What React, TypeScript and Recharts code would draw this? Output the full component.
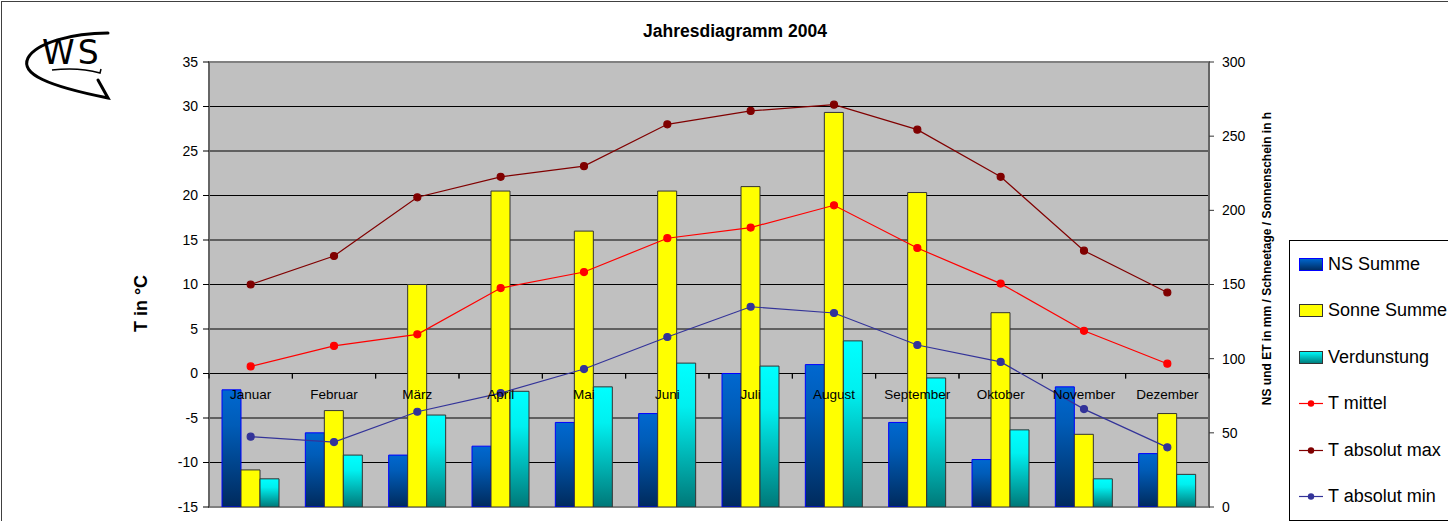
import React from 'react'
import {
  ComposedChart,
  Bar,
  Line,
  XAxis,
  YAxis,
  CartesianGrid,
  ReferenceArea,
} from 'recharts'

const MONTHS = ['Januar', 'Februar', 'März', 'April', 'Mai', 'Juni', 'Juli', 'August', 'September', 'Oktober', 'November', 'Dezember']

// right axis (mm / h)
const NS_SUMME = [79, 50, 35, 41, 57, 63, 90, 96, 57, 32, 81, 36]
const SONNE_SUMME = [25, 65, 150, 213, 186, 213, 216, 266, 212, 131, 49, 63]
const VERDUNSTUNG = [19, 35, 62, 78, 81, 97, 95, 112, 87, 52, 19, 22]

// left axis (°C)
const T_MITTEL = [0.8, 3.1, 4.4, 9.6, 11.4, 15.2, 16.4, 18.9, 14.1, 10.1, 4.8, 1.1]
const T_ABS_MAX = [10.0, 13.2, 19.8, 22.1, 23.3, 28.0, 29.5, 30.2, 27.4, 22.1, 13.8, 9.1]
const T_ABS_MIN = [-7.1, -7.7, -4.3, -2.2, 0.5, 4.1, 7.5, 6.8, 3.2, 1.3, -4.0, -8.3]

const T_TICKS = [-15, -10, -5, 0, 5, 10, 15, 20, 25, 30, 35]
const R_TICKS = [0, 50, 100, 150, 200, 250, 300]

const W = 1448
const H = 521
const MARGIN = { top: 62, right: 179, bottom: 13, left: 149 }
const AXIS_W = 60
const PLOT_LEFT = MARGIN.left + AXIS_W
const PLOT_RIGHT = W - MARGIN.right - AXIS_W
const PLOT_TOP = MARGIN.top
const PLOT_BOTTOM = H - MARGIN.bottom - 1
const BAND = (PLOT_RIGHT - PLOT_LEFT) / MONTHS.length
const T_DOMAIN = [T_TICKS[0], T_TICKS[T_TICKS.length - 1]]
const ZERO_Y = PLOT_TOP + ((PLOT_BOTTOM - PLOT_TOP) * T_DOMAIN[1]) / (T_DOMAIN[1] - T_DOMAIN[0])

const FONT = '"Liberation Sans", Arial, sans-serif'

const data = MONTHS.map((m, i) => ({
  month: m,
  ns: NS_SUMME[i],
  sonne: SONNE_SUMME[i],
  verd: VERDUNSTUNG[i],
  tmittel: T_MITTEL[i],
  tmax: T_ABS_MAX[i],
  tmin: T_ABS_MIN[i],
}))

const LEGEND = [
  { name: 'NS Summe', kind: 'bar', fill: 'url(#lg-ns)', stroke: '#0000ff' },
  { name: 'Sonne Summe', kind: 'bar', fill: '#ffff00', stroke: '#333' },
  { name: 'Verdunstung', kind: 'bar', fill: 'url(#lg-verd)', stroke: '#333' },
  { name: 'T mittel', kind: 'line', stroke: '#ff0000' },
  { name: 'T absolut max', kind: 'line', stroke: '#800000' },
  { name: 'T absolut min', kind: 'line', stroke: '#333399' },
]

// month labels sit under the zero line, like Excel does it
function MonthTick({ x, payload }: any) {
  return (
    <g>
      <line x1={x - BAND / 2} x2={x - BAND / 2} y1={ZERO_Y} y2={ZERO_Y + 5} stroke="#000" />
      <line x1={x + BAND / 2} x2={x + BAND / 2} y1={ZERO_Y} y2={ZERO_Y + 5} stroke="#000" />
      <text x={x} y={ZERO_Y + 25.5} textAnchor="middle" fontSize={13.5} fill="#000">
        {payload.value}
      </text>
    </g>
  )
}

function LeftTitle({ viewBox }: any) {
  const x = viewBox.x - 2
  const y = viewBox.y + viewBox.height / 2 + 19
  return (
    <text x={x} y={y} transform={`rotate(-90 ${x} ${y})`} textAnchor="middle" fontSize={18} fontWeight="bold" fill="#000">
      T in °C
    </text>
  )
}

function RightTitle({ viewBox }: any) {
  const x = viewBox.x + 62
  const y = viewBox.y + viewBox.height / 2 - 26
  return (
    <text x={x} y={y} transform={`rotate(-90 ${x} ${y})`} textAnchor="middle" fontSize={12} fontWeight="bold" fill="#000">
      NS und ET in mm / Schneetage / Sonnenschein in h
    </text>
  )
}

function Logo() {
  return (
    <svg width={130} height={110} style={{ position: 'absolute', left: 0, top: 0 }}>
      <path d="M108,33 C72,33 36,43 28,58 C20,74 48,86 108,98 L98,80" fill="none" stroke="#000" strokeWidth={3} strokeLinecap="round" />
      <path d="M52,70 C68,68 86,69 100,73 L101,69" fill="none" stroke="#000" strokeWidth={1.5} />
      <text x={42} y={64} fontSize={33} fontFamily="DejaVu Sans" letterSpacing={3} fill="#000">
        WS
      </text>
    </svg>
  )
}

function Legend() {
  return (
    <div
      style={{
        position: 'absolute',
        left: 1289,
        top: 240,
        width: 175,
        height: 281,
        border: '1px solid #000',
        background: '#fff',
        boxSizing: 'border-box',
        paddingLeft: 9,
      }}
    >
      {LEGEND.map((s) => (
        <div key={s.name} style={{ height: 46.5, display: 'flex', alignItems: 'center', whiteSpace: 'nowrap' }}>
          <svg width={24} height={13} style={{ marginRight: 5, flex: 'none' }}>
            <defs>
              <linearGradient id="lg-ns" x1="0" y1="0" x2="0" y2="1">
                <stop offset="0%" stopColor="#0068d0" />
                <stop offset="100%" stopColor="#002a5c" />
              </linearGradient>
              <linearGradient id="lg-verd" x1="0" y1="0" x2="0" y2="1">
                <stop offset="0%" stopColor="#00ffff" />
                <stop offset="100%" stopColor="#007878" />
              </linearGradient>
            </defs>
            {s.kind === 'bar' ? (
              <rect x={0.5} y={0.5} width={23} height={12} fill={s.fill} stroke={s.stroke} />
            ) : (
              <g>
                <line x1={0} x2={24} y1={6.5} y2={6.5} stroke={s.stroke} strokeWidth={1.2} />
                <circle cx={12} cy={6.5} r={3.2} fill={s.stroke} />
              </g>
            )}
          </svg>
          <span style={{ fontSize: 18, color: '#000' }}>{s.name}</span>
        </div>
      ))}
    </div>
  )
}

export default function App() {
  return (
    <div
      style={{
        position: 'fixed',
        left: 0,
        top: 0,
        width: W,
        height: H,
        overflow: 'hidden',
        background: '#fff',
        fontFamily: FONT,
      }}
    >
      {/* outer frame, right/bottom edges fall outside the picture */}
      <div style={{ position: 'absolute', left: 1, top: 1, width: 1600, height: 700, border: '1px solid #404040' }} />
      <Logo />
      <div
        style={{
          position: 'absolute',
          left: 535,
          top: 23,
          width: 400,
          textAlign: 'center',
          fontSize: 17.5,
          fontWeight: 'bold',
          lineHeight: 1,
          color: '#000',
        }}
      >
        Jahresdiagramm 2004
      </div>

      <ComposedChart width={W} height={H} data={data} margin={MARGIN} barGap={0} barSize={19}>
        <defs>
          <linearGradient id="grad-ns" x1="0" y1="0" x2="0" y2="1">
            <stop offset="0%" stopColor="#0068d0" />
            <stop offset="30%" stopColor="#005cb8" />
            <stop offset="100%" stopColor="#002a5c" />
          </linearGradient>
          <linearGradient id="grad-verd" x1="0" y1="0" x2="0" y2="1">
            <stop offset="0%" stopColor="#00ffff" />
            <stop offset="30%" stopColor="#00f0f0" />
            <stop offset="100%" stopColor="#007878" />
          </linearGradient>
        </defs>

        <CartesianGrid yAxisId="left" horizontal vertical={false} stroke="#000" fill="#c0c0c0" fillOpacity={1} />

        <XAxis
          dataKey="month"
          height={1}
          axisLine={false}
          tickLine={false}
          interval={0}
          tick={<MonthTick />}
        />
        <YAxis
          yAxisId="left"
          width={AXIS_W}
          domain={T_DOMAIN}
          ticks={T_TICKS}
          interval={0}
          allowDataOverflow
          tick={{ fontSize: 14, fill: '#000' }}
          tickSize={6}
          tickMargin={5}
          axisLine={{ stroke: '#666', strokeWidth: 2 }}
          tickLine={{ stroke: '#000' }}
          label={{ content: LeftTitle }}
        />
        <YAxis
          yAxisId="right"
          orientation="right"
          width={AXIS_W}
          domain={[0, 300]}
          ticks={R_TICKS}
          interval={0}
          allowDataOverflow
          tick={{ fontSize: 14, fill: '#000' }}
          tickSize={5}
          tickMargin={8}
          axisLine={{ stroke: '#666', strokeWidth: 2 }}
          tickLine={{ stroke: '#333' }}
          label={{ content: RightTitle }}
        />

        <Bar yAxisId="right" dataKey="ns" name="NS Summe" fill="url(#grad-ns)" stroke="#0000ff" strokeWidth={1} isAnimationActive={false} />
        <Bar yAxisId="right" dataKey="sonne" name="Sonne Summe" fill="#ffff00" stroke="#333" strokeWidth={1} isAnimationActive={false} />
        <Bar yAxisId="right" dataKey="verd" name="Verdunstung" fill="url(#grad-verd)" stroke="#333" strokeWidth={1} isAnimationActive={false} />

        <ReferenceArea yAxisId="left" y1={T_DOMAIN[0]} y2={T_DOMAIN[1]} fill="none" stroke="#808080" strokeWidth={2} />

        <Line yAxisId="left" dataKey="tmittel" name="T mittel" stroke="#ff0000" strokeWidth={1.2} dot={{ r: 3.5, fill: '#ff0000', stroke: '#ff0000' }} isAnimationActive={false} />
        <Line yAxisId="left" dataKey="tmax" name="T absolut max" stroke="#800000" strokeWidth={1.2} dot={{ r: 3.5, fill: '#800000', stroke: '#800000' }} isAnimationActive={false} />
        <Line yAxisId="left" dataKey="tmin" name="T absolut min" stroke="#333399" strokeWidth={1.2} dot={{ r: 3.5, fill: '#333399', stroke: '#333399' }} isAnimationActive={false} />
      </ComposedChart>

      <Legend />
    </div>
  )
}
